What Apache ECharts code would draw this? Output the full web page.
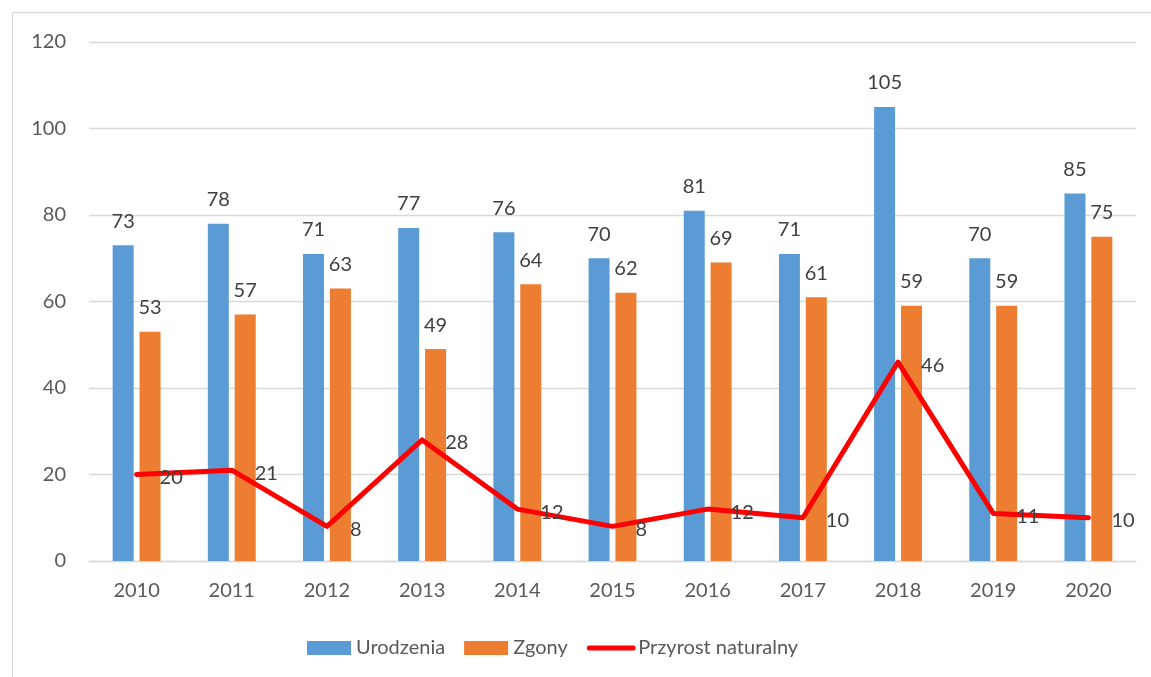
<!DOCTYPE html>
<html>
<head>
<meta charset="utf-8">
<script src="https://cdn.jsdelivr.net/npm/echarts@6/dist/echarts.min.js"></script>
<style>html,body{margin:0;padding:0;background:#fff;}#c{width:1151px;height:677px;}</style>
</head>
<body>
<div id="c"></div>
<script>
const categories = ['2010','2011','2012','2013','2014','2015','2016','2017','2018','2019','2020'];
const urodzenia = [73, 78, 71, 77, 76, 70, 81, 71, 105, 70, 85];
const zgony = [53, 57, 63, 49, 64, 62, 69, 61, 59, 59, 75];
const przyrost = [20, 21, 8, 28, 12, 8, 12, 10, 46, 11, 10];
const yTicks = {min: 0, max: 120, interval: 20};

const FONT = 'Lato, "Noto Sans", sans-serif';
const chart = echarts.init(document.getElementById('c'), null, {renderer: 'canvas'});
chart.setOption({
  animation: false,
  backgroundColor: '#fff',
  textStyle: {fontFamily: FONT},
  graphic: [{
    type: 'rect', z: -10, silent: true,
    shape: {x: 12.5, y: 12.5, width: 1200, height: 700},
    style: {fill: 'none', stroke: '#d9d9d9', lineWidth: 1.3}
  }],
  grid: {left: 89, right: 15, top: 42, bottom: 116, containLabel: false},
  legend: {
    left: 302, top: 633,
    itemWidth: 44, itemHeight: 14, itemGap: 19,
    textStyle: {fontFamily: FONT, fontSize: 20, color: '#595959'},
    data: [
      {name: 'Urodzenia', icon: 'rect'},
      {name: 'Zgony', icon: 'rect'},
      {name: 'Przyrost naturalny', lineStyle: {width: 5, cap: 'round', color: '#ff0000'}}
    ]
  },
  xAxis: {
    type: 'category', data: categories,
    axisLine: {lineStyle: {color: '#d9d9d9', width: 1.3}},
    axisTick: {show: false},
    axisLabel: {fontFamily: FONT, fontSize: 20, color: '#595959', margin: 20}
  },
  yAxis: {
    type: 'value', min: yTicks.min, max: yTicks.max, interval: yTicks.interval,
    axisLine: {show: false}, axisTick: {show: false},
    splitLine: {lineStyle: {color: '#d9d9d9', width: 1.3}},
    axisLabel: {fontFamily: FONT, fontSize: 20, color: '#595959', margin: 23}
  },
  series: [
    {
      name: 'Urodzenia', type: 'bar', data: urodzenia,
      barWidth: 21, barGap: '28%',
      itemStyle: {color: '#5b9bd5'},
      label: {show: true, position: 'top', distance: 14, fontFamily: FONT, fontSize: 20, color: '#404040'}
    },
    {
      name: 'Zgony', type: 'bar', data: zgony,
      barWidth: 21, barGap: '28%',
      itemStyle: {color: '#ed7d31'},
      label: {show: true, position: 'top', distance: 14, fontFamily: FONT, fontSize: 20, color: '#404040'}
    },
    {
      name: 'Przyrost naturalny', type: 'line', data: przyrost,
      symbol: 'circle', symbolSize: 2, showSymbol: true,
      itemStyle: {color: '#ff0000', opacity: 0},
      lineStyle: {color: '#ff0000', width: 5, cap: 'round', join: 'round'},
      label: {show: true, position: 'right', distance: 22, offset: [0, 3], fontFamily: FONT, fontSize: 20, color: '#404040', opacity: 1},
      z: 5
    }
  ]
});
</script>
</body>
</html>
